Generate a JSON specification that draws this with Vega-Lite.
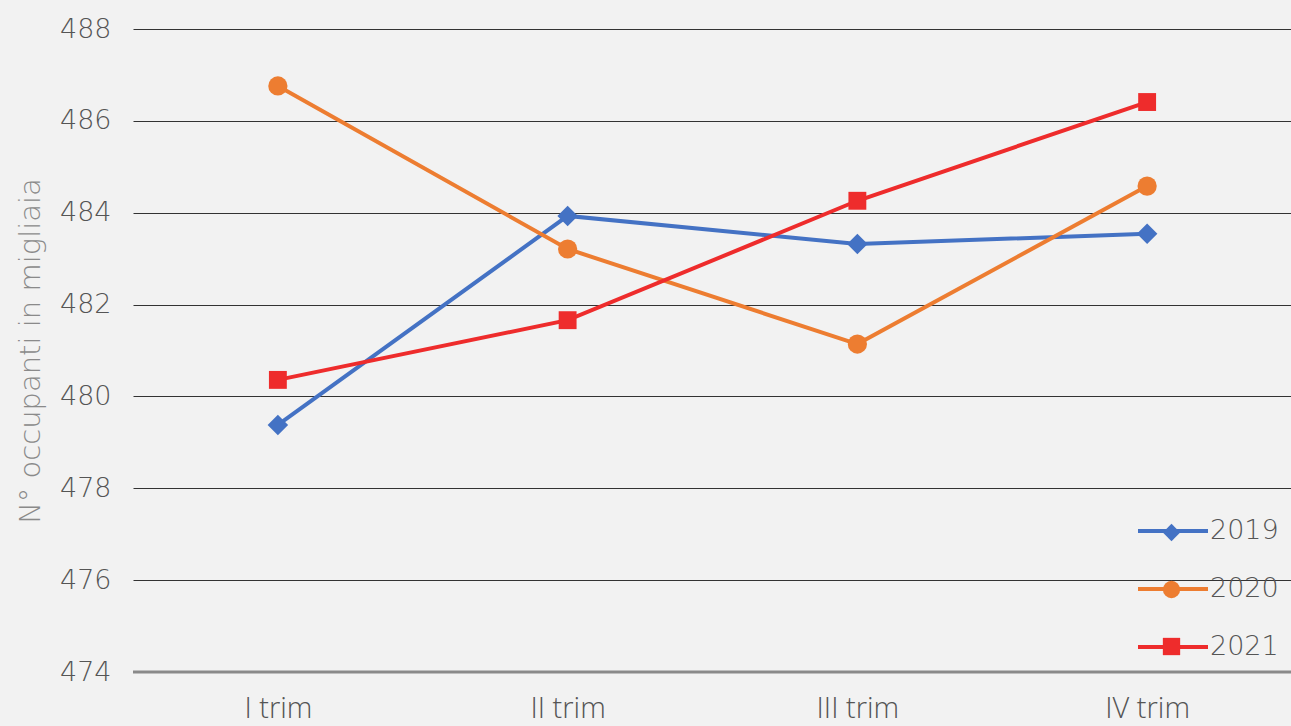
{
  "$schema": "https://vega.github.io/schema/vega-lite/v6.json",
  "width": 1159,
  "height": 643,
  "autosize": {"type": "none"},
  "padding": {"left": 133, "top": 29, "right": 0, "bottom": 54},
  "background": "#f2f2f2",
  "config": {"view": {"stroke": null}},
  "data": {"values": [
    {"trim": "I trim", "anno": "2019", "val": 479.38},
    {"trim": "II trim", "anno": "2019", "val": 483.93},
    {"trim": "III trim", "anno": "2019", "val": 483.32},
    {"trim": "IV trim", "anno": "2019", "val": 483.54},
    {"trim": "I trim", "anno": "2020", "val": 486.76},
    {"trim": "II trim", "anno": "2020", "val": 483.21},
    {"trim": "III trim", "anno": "2020", "val": 481.14},
    {"trim": "IV trim", "anno": "2020", "val": 484.58},
    {"trim": "I trim", "anno": "2021", "val": 480.36},
    {"trim": "II trim", "anno": "2021", "val": 481.66},
    {"trim": "III trim", "anno": "2021", "val": 484.26},
    {"trim": "IV trim", "anno": "2021", "val": 486.41}
  ]},
  "encoding": {
    "x": {"field": "trim", "type": "ordinal", "sort": ["I trim", "II trim", "III trim", "IV trim"],
      "scale": {"type": "point", "padding": 0.5},
      "axis": {"title": null, "labelAngle": 0, "domain": false, "ticks": false, "grid": false,
        "labelFont": "Open Sans", "labelFontWeight": 300, "labelFontSize": 29, "labelColor": "#555555", "labelPadding": 22}},
    "y": {"field": "val", "type": "quantitative",
      "scale": {"domain": [474, 488], "zero": false, "nice": false},
      "axis": {"title": "N° occupanti in migliaia", "values": [474, 476, 478, 480, 482, 484, 486, 488],
        "domain": false, "ticks": false, "grid": true, "gridColor": "#333333", "gridWidth": 1,
        "labelFont": "DejaVu Sans", "labelFontWeight": 200, "labelFontSize": 27, "labelColor": "#555555", "labelPadding": 22,
        "titleFont": "DejaVu Sans", "titleFontWeight": 200, "titleFontSize": 29, "titleColor": "#8a8a8a", "titlePadding": 14}}
  },
  "layer": [
    {
      "mark": {"type": "rule", "color": "#8a8a8a", "strokeWidth": 3},
      "data": {"values": [{"v": 474}]},
      "encoding": {"y": {"field": "v", "type": "quantitative"}, "x": null}
    },
    {
      "mark": {"type": "line", "strokeWidth": 4},
      "encoding": {
        "stroke": {"field": "anno", "type": "nominal",
          "scale": {"range": ["#4472C4", "#ED7D31", "#EE2C2C"]},
          "legend": {"title": null, "orient": "none", "legendX": 1003, "legendY": 465, "symbolType": "stroke",
            "symbolSize": 4900, "symbolStrokeWidth": 4, "labelFont": "DejaVu Sans", "labelFontWeight": 200,
            "labelFontSize": 27, "labelColor": "#555555", "labelOffset": 0, "rowPadding": 8}}
      }
    },
    {
      "mark": {"type": "point", "filled": true, "opacity": 1},
      "encoding": {
        "fill": {"field": "anno", "type": "nominal", "sort": {"field": "anno", "op": "min"},
          "scale": {"range": ["#4472C4", "#ED7D31", "#EE2C2C"]},
          "legend": {"title": null, "orient": "none", "legendX": 1025, "legendY": 490,
            "symbolSize": 300, "symbolStrokeWidth": 0, "symbolOpacity": 1, "labelOpacity": 0, "labelFontSize": 27, "rowPadding": 29}},
        "shape": {"field": "anno", "type": "nominal", "sort": {"field": "anno", "op": "min"},
          "scale": {"range": ["diamond", "circle", "square"]},
          "legend": {"title": null, "orient": "none", "legendX": 1025, "legendY": 490,
            "symbolSize": 300, "symbolStrokeWidth": 0, "symbolOpacity": 1, "labelOpacity": 0, "labelFontSize": 27, "rowPadding": 29}},
        "size": {"field": "anno", "type": "nominal",
          "scale": {"range": [420, 320, 230]}, "legend": null}
      }
    }
  ]
}
